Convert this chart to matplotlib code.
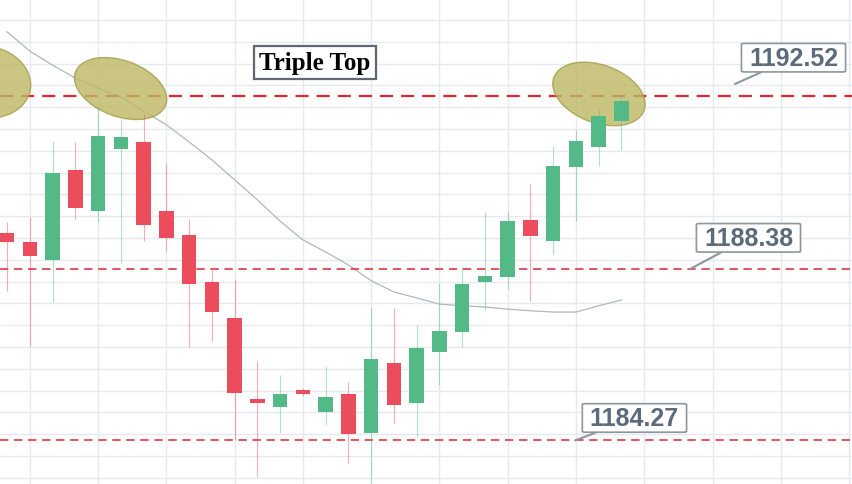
import numpy as np
import matplotlib.pyplot as plt
from matplotlib.patches import Ellipse
from matplotlib.transforms import IdentityTransform

plt.rcParams['lines.scale_dashes'] = False

# candle data
opens = [1189.25, 1189.03, 1188.60, 1190.76, 1189.77, 1191.26, 1191.43, 1189.77, 1189.20, 1188.07,
         1187.21, 1185.27, 1185.07, 1185.48, 1184.95, 1185.39, 1184.45, 1186.13, 1185.17, 1186.39,
         1186.87, 1188.07, 1188.19, 1189.56, 1189.05, 1190.83, 1191.31, 1191.93]
highs = [1189.51, 1189.63, 1191.45, 1191.43, 1192.27, 1191.98, 1192.10, 1190.92, 1189.58, 1188.38,
         1188.14, 1186.18, 1185.84, 1185.53, 1186.06, 1185.67, 1187.47, 1187.45, 1187.04, 1188.05,
         1188.43, 1189.75, 1189.77, 1190.42, 1191.33, 1191.72, 1192.22, 1192.56]
lows = [1187.86, 1186.54, 1187.59, 1189.58, 1189.51, 1188.53, 1189.05, 1188.81, 1186.51, 1186.66,
        1184.28, 1183.39, 1184.45, 1185.34, 1184.64, 1183.73, 1183.25, 1184.67, 1184.35, 1185.60,
        1186.51, 1187.40, 1187.90, 1187.62, 1188.74, 1189.53, 1190.85, 1191.24]
closes = [1189.03, 1188.69, 1190.68, 1189.85, 1191.57, 1191.55, 1189.44, 1189.13, 1188.02, 1187.35,
          1185.41, 1185.17, 1185.39, 1185.39, 1185.31, 1184.43, 1186.22, 1185.12, 1186.49, 1186.90,
          1188.02, 1188.22, 1189.53, 1189.17, 1190.85, 1191.45, 1192.05, 1192.41]
ma = [1194.07, 1193.61, 1193.27, 1192.96, 1192.72, 1192.51, 1192.17, 1191.84, 1191.43, 1191.00,
      1190.52, 1190.04, 1189.53, 1189.08, 1188.79, 1188.48, 1188.10, 1187.83, 1187.69, 1187.54,
      1187.50, 1187.47, 1187.42, 1187.38, 1187.35, 1187.35, 1187.50, 1187.64]

levels = [1192.52, 1188.38, 1184.27]
level_labels = ['1192.52', '1188.38', '1184.27']
title_text = 'Triple Top'

o = np.array(opens)
c = np.array(closes)
x = np.arange(len(o))
colors = np.where(c >= o, '#53b987', '#eb4d5c')

fig = plt.figure(figsize=(8.52, 4.85), dpi=100)
ax = fig.add_axes([0, 0, 1, 1])
ax.set_xlim(-0.31, 37.13)
ax.set_ylim(1183.226, 1194.857)

# light chart grid
ax.set_xticks(np.arange(1, 38, 3))
ax.set_yticks(np.arange(1194.353, 1183.0, -0.5228))
ax.grid(True, color='#e6eaef', lw=1.0)
ax.set_axisbelow(True)
ax.tick_params(length=0, labelbottom=False, labelleft=False)
for s in ax.spines.values():
    s.set_visible(False)

# moving average
ax.plot(x, ma, color='#b3b6ba', lw=0.9, zorder=2.2)

# candles
ax.vlines(x, lows, highs, colors=colors, lw=0.8, alpha=0.45, zorder=3.5)
ax.bar(x, np.abs(c - o), bottom=np.minimum(o, c), width=0.64, color=colors, zorder=4)

# support / resistance levels
ax.axhline(levels[0], color='#e3262b', lw=1.6, dashes=(9.4, 5.8), zorder=2.5)
for lv in levels[1:]:
    ax.axhline(lv, color='#e64452', lw=1.3, dashes=(6, 4.1), zorder=2.5)

# highlight ellipses around the three tops
ell_pos = [(-0.97, 1192.87, 92, 72, -10), (4.99, 1192.71, 96, 56, -20), (26.01, 1192.58, 96, 58, -20)]
for ex, ey, w, h, ang in ell_pos:
    cx, cy = ax.transData.transform((ex, ey))
    e = Ellipse((cx, cy), w, h, angle=ang, transform=IdentityTransform(),
                facecolor='#bdb863', edgecolor='#a39c48', alpha=0.8, lw=1, zorder=3)
    ax.add_artist(e)

# price callouts
ptr = [(31.99, 1192.82), (30.01, levels[1]), (24.96, levels[2])]
boxes = [(34.56, 1193.45), (32.58, 1189.13), (27.57, 1184.81)]
for lab, p, b in zip(level_labels, ptr, boxes):
    ax.annotate(lab, xy=p, xytext=b, ha='center', va='center',
                fontsize=18, fontweight='bold', family='Liberation Sans', color='#5b6b7b',
                bbox=dict(boxstyle='round,pad=0.3,rounding_size=0.12', fc='white',
                          ec='#8d969e', lw=1.2, mutation_aspect=0.3),
                arrowprops=dict(arrowstyle='-', color='#8d969e', lw=1.5, shrinkA=0, shrinkB=0),
                zorder=6)

ax.text(13.53, 1193.33, title_text, family='Liberation Serif', fontweight='bold', fontsize=18,
        ha='center', va='center', color='black',
        bbox=dict(boxstyle='square,pad=0.2', fc='white', ec='#5f6870', lw=1.6), zorder=6)

fig.savefig('out.png', dpi=100)
